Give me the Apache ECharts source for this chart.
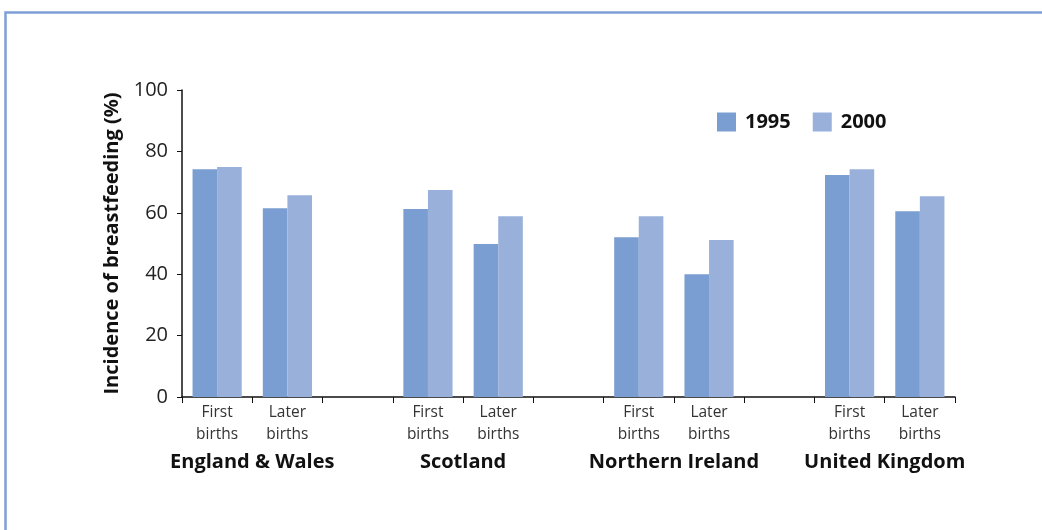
<!DOCTYPE html>
<html>
<head>
<meta charset="utf-8">
<script src="https://cdn.jsdelivr.net/npm/echarts@6/dist/echarts.min.js"></script>
<style>
  html, body { margin: 0; padding: 0; background: #fff; }
  #chart { width: 1042px; height: 530px; }
</style>
</head>
<body>
<div id="chart"></div>
<script>
// Birth-order categories; empty slots separate the four country groups
const categories = ['First\nbirths', 'Later\nbirths', '', 'First\nbirths', 'Later\nbirths', '', 'First\nbirths', 'Later\nbirths', '', 'First\nbirths', 'Later\nbirths'];
// Country names sit on the boundary between each group's two bars
const groupLabels = ['', 'England & Wales', '', '', 'Scotland', '', '', 'Northern Ireland', '', '', 'United Kingdom', ''];
const seriesNames = ['1995', '2000'];
const values1995 = [74.2, 61.5, null, 61.2, 49.8, null, 52.0, 40.0, null, 72.3, 60.5];
const values2000 = [74.9, 65.7, null, 67.4, 58.9, null, 58.9, 51.1, null, 74.2, 65.4];
const yTicks = { min: 0, max: 100, interval: 20 };

const fontFamily = '"Open Sans", "Noto Sans", sans-serif';
const chart = echarts.init(document.getElementById('chart'));

chart.setOption({
  animation: false,
  backgroundColor: '#fff',
  textStyle: { fontFamily },
  grid: { left: 182, right: 87, top: 90, bottom: 133, containLabel: false },
  legend: {
    data: seriesNames,
    left: 717,
    top: 112,
    padding: 0,
    itemWidth: 19,
    itemHeight: 19,
    itemGap: 22,
    icon: 'rect',
    textStyle: { fontSize: 20, fontWeight: 'bold', color: '#111', fontFamily, padding: [0, 0, 0, 4] }
  },
  xAxis: [
    {
      type: 'category',
      data: categories,
      axisLine: { lineStyle: { color: '#111', width: 1.5 } },
      axisTick: { show: true, interval: 0, length: 6, lineStyle: { color: '#111' } },
      axisLabel: { interval: 0, fontSize: 15.5, color: '#333', lineHeight: 22, margin: 5, fontFamily }
    },
    {
      type: 'category',
      position: 'bottom',
      data: groupLabels,
      boundaryGap: false,
      axisLine: { show: false },
      axisTick: { show: false },
      axisLabel: { interval: 0, fontSize: 20, fontWeight: 'bold', color: '#111', margin: 55, fontFamily }
    }
  ],
  yAxis: {
    type: 'value',
    min: yTicks.min,
    max: yTicks.max,
    interval: yTicks.interval,
    name: 'Incidence of breastfeeding (%)',
    nameLocation: 'middle',
    nameGap: 58,
    nameTextStyle: { fontSize: 20, fontWeight: 'bold', color: '#111', fontFamily },
    axisLine: { show: true, lineStyle: { color: '#111', width: 1.5 } },
    axisTick: { show: true, length: 5, lineStyle: { color: '#111' } },
    axisLabel: { fontSize: 20, color: '#222', margin: 14, fontFamily },
    splitLine: { show: false }
  },
  series: [
    {
      name: seriesNames[0],
      type: 'bar',
      data: values1995,
      barGap: '0%',
      barCategoryGap: '30%',
      itemStyle: { color: '#7a9ed1' }
    },
    {
      name: seriesNames[1],
      type: 'bar',
      data: values2000,
      itemStyle: { color: '#98b0da' }
    }
  ],
  graphic: [
    {
      type: 'rect',
      shape: { x: 5.5, y: 12.5, width: 1100, height: 600 },
      style: { fill: 'none', stroke: '#7f9fd6', lineWidth: 2.5 },
      silent: true,
      z: -1
    }
  ]
});
</script>
</body>
</html>
